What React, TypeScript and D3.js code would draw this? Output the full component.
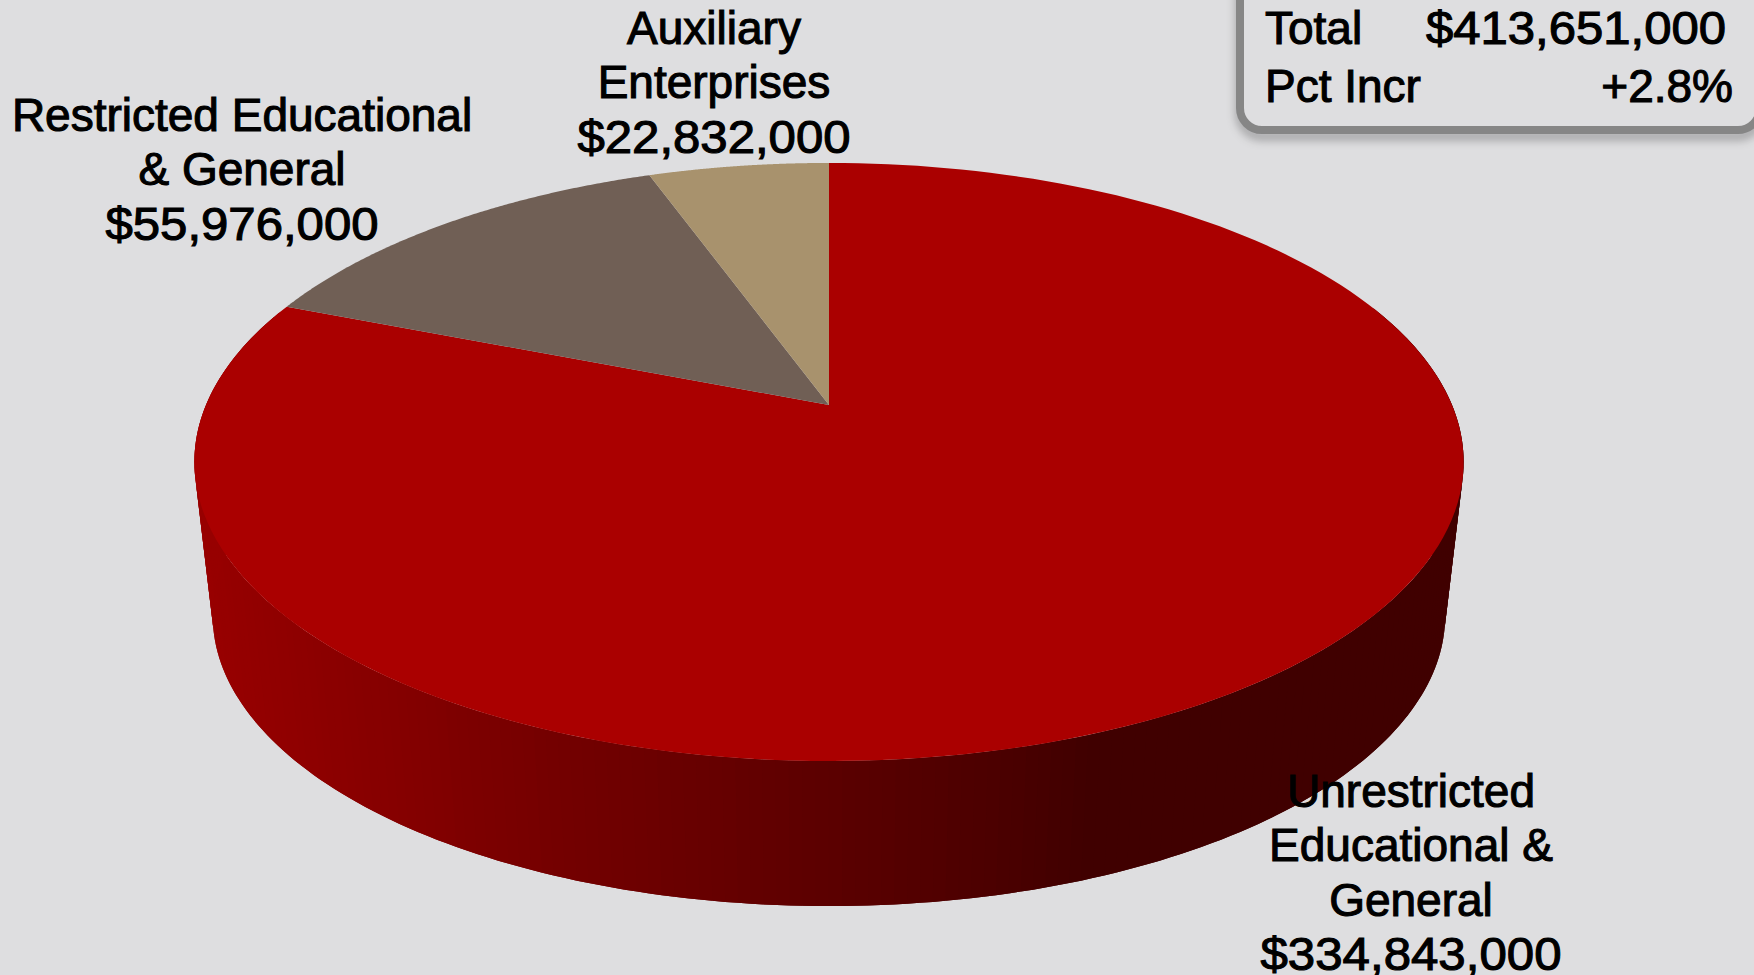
import React from "react";
import * as d3 from "d3";

const categories = ["Unrestricted Educational & General", "Restricted Educational & General", "Auxiliary Enterprises"];
const values = [334843000, 55976000, 22832000];
const sliceColors = ["#aa0000", "#705f55", "#a8926d"];
const labelLines = [
  ["Unrestricted", "Educational &", "General", "$334,843,000"],
  ["Restricted Educational", "& General", "$55,976,000"],
  ["Auxiliary", "Enterprises", "$22,832,000"],
];
const labelAnchors = [
  { x: 1411, y: 807 },
  { x: 242, y: 131 },
  { x: 714, y: 44 },
];
const summaryRows = [
  ["Total", "$413,651,000"],
  ["Pct Incr", "+2.8%"],
];

const width = 1754;
const height = 975;
const background = "#dedee0";
const fontFamily = "'Liberation Sans', Arial, sans-serif";
const fontSize = 46;
const lineStep = 54.3;

// perspective projection of the unit disc onto the page
const centerX = 829;
const centerY = 405;
const radiusX = 623;
const radiusY = 211;
const tilt = -0.1906;
const vanishX = 827;
const vanishY = 5760;
const depthScale = 0.971;

const project = (angle: number): [number, number] => {
  const u = Math.sin(angle);
  const v = -Math.cos(angle);
  const w = 1 + tilt * v;
  return [centerX + (radiusX * u) / w, (radiusY * v + centerY) / w];
};
const projectBottom = (angle: number): [number, number] => {
  const [x, y] = project(angle);
  return [vanishX + (x - vanishX) * depthScale, vanishY + (y - vanishY) * depthScale];
};

const line = d3.line();
const toRad = (deg: number) => (deg * Math.PI) / 180;
const arcAngles = (a0: number, a1: number) => d3.range(0, 181).map((i) => a0 + ((a1 - a0) * i) / 180);

const pie = d3.pie<number>().sort(null);
const slices = pie(values);

const slicePath = (a0: number, a1: number) =>
  line([[centerX, centerY], ...arcAngles(a0, a1).map(project)]) + "Z";

// the side wall is cut in thin strips, each one painted over the edge of the one before
const wallStrips = d3.pairs(d3.range(70, 291).map(toRad));
const stripOverlap = toRad(1);
const stripPath = ([a0, a1]: [number, number]) =>
  line([
    project(a0 - stripOverlap),
    project(a0),
    project(a1),
    projectBottom(a1),
    projectBottom(a0),
    projectBottom(a0 - stripOverlap),
  ]) + "Z";

const shade = d3
  .scaleLinear<string>()
  .domain([192, 380, 500, 700, 850, 1000, 1080, 1462])
  .range(["#980000", "#850000", "#780000", "#660000", "#580000", "#4a0000", "#400000", "#400000"])
  .clamp(true);

// money lines are wider than the font's own digits
const lineLength = (t: string) => (t.startsWith("$") ? (t.length === 11 ? 273 : 301) : undefined);

export default function App() {
  return (
    <svg
      width={width}
      height={height}
      viewBox={`0 0 ${width} ${height}`}
      style={{ position: "fixed", left: 0, top: 0, background }}
    >
      <defs>
        <filter id="soft" x="-10%" y="-30%" width="120%" height="160%">
          <feGaussianBlur stdDeviation="5" />
        </filter>
      </defs>

      {wallStrips.map((s) => (
        <path key={s[0]} d={stripPath(s)} fill={shade((project(s[0])[0] + project(s[1])[0]) / 2)} />
      ))}
      {slices.map((s, i) => (
        <path key={categories[i]} d={slicePath(s.startAngle, s.endAngle)} fill={sliceColors[i]} />
      ))}

      {labelLines.map((lines, i) => (
        <g
          key={categories[i]}
          textAnchor="middle"
          fontFamily={fontFamily}
          fontSize={fontSize}
          fill="#000"
          stroke="#000"
          strokeWidth={1.1}
        >
          {lines.map((t, j) => (
            <text
              key={t}
              x={labelAnchors[i].x}
              y={labelAnchors[i].y + j * lineStep}
              textLength={lineLength(t)}
              lengthAdjust="spacingAndGlyphs"
            >
              {t}
            </text>
          ))}
        </g>
      ))}

      <rect x={1240} y={-40} width={520} height={170} rx={22} fill="none" stroke="#000" strokeOpacity={0.3} strokeWidth={8} filter="url(#soft)" transform="translate(0,6)" />
      <rect x={1240} y={-40} width={520} height={170} rx={22} fill={background} stroke="#868686" strokeWidth={8} />
      {summaryRows.map((row, i) => (
        <g key={row[0]} fontFamily={fontFamily} fontSize={fontSize} fill="#000" stroke="#000" strokeWidth={1.1}>
          <text x={1265} y={44 + i * 58}>{row[0]}</text>
          <text
            x={i === 0 ? 1726 : 1733}
            y={44 + i * 58}
            textAnchor="end"
            textLength={i === 0 ? 300 : undefined}
            lengthAdjust="spacingAndGlyphs"
          >
            {row[1]}
          </text>
        </g>
      ))}
    </svg>
  );
}
